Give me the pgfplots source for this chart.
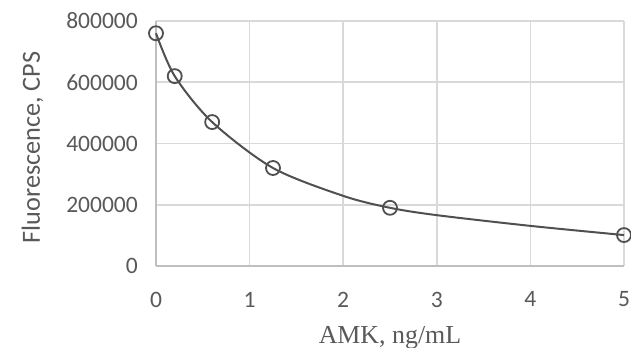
\documentclass[border=0pt]{standalone}
\usepackage{fontspec}
\setmainfont{Carlito}
\newfontfamily\tnr{Liberation Serif}
\usepackage{pgfplots}
\pgfplotsset{compat=1.18}
\definecolor{txt}{HTML}{595959}
\definecolor{gridc}{HTML}{D9D9D9}
\definecolor{axc}{HTML}{BFBFBF}
\definecolor{curve}{HTML}{505050}
\begin{document}
\begin{tikzpicture}
\begin{axis}[
  at={(0,0)}, anchor=south west,
  scale only axis, width=468bp, height=245bp,
  xmin=0, xmax=5, ymin=0, ymax=800000,
  xtick={0,1,2,3,4,5},
  ytick={0,200000,400000,600000,800000},
  scaled y ticks=false,
  /pgf/number format/assume math mode=true,
  yticklabel={\pgfmathprintnumber[fixed,1000 sep={},precision=0]{\tick}},
  axis lines=left,
  axis line style={-, draw=axc, line width=1.6bp},
  major tick length=0pt,
  grid=major,
  major grid style={draw=gridc, line width=1.6bp},
  tick label style={font=\fontsize{23.6}{28}\selectfont, text=txt},
  xticklabel style={inner sep=0pt, anchor=north, yshift=-25.7bp},
  yticklabel style={inner sep=0pt, anchor=east, xshift=-18bp},
  xlabel={AMK, ng/mL},
  ylabel={Fluorescence, CPS},
  every axis x label/.style={at={(axis description cs:0.5,0)}, anchor=base, yshift=-77.3bp, inner sep=0pt, font=\tnr\fontsize{26}{30}\selectfont, text=txt},
  every axis y label/.style={at={(axis description cs:0,0.484)}, rotate=90, anchor=base, yshift=116bp, inner sep=0pt, font=\fontsize{26.3}{30}\selectfont, text=txt},
  clip=false,
]
\addplot[curve, line width=2bp, smooth, no marks] coordinates {
  (0,760000) (0.2,620000) (0.6,470000) (1.25,320000) (2,229000)
  (2.5,190000) (3,166000) (4,131000) (5,101000)
};
\addplot[only marks, mark=o, mark size=7bp, mark options={draw=curve, line width=1.8bp, fill=none}] coordinates {
  (0,760000) (0.2,620000) (0.6,470000) (1.25,320000) (2.5,190000) (5,101000)
};
\end{axis}
\pgfresetboundingbox
\path (-156bp,-82bp) rectangle (475bp,266bp);
\end{tikzpicture}
\end{document}
